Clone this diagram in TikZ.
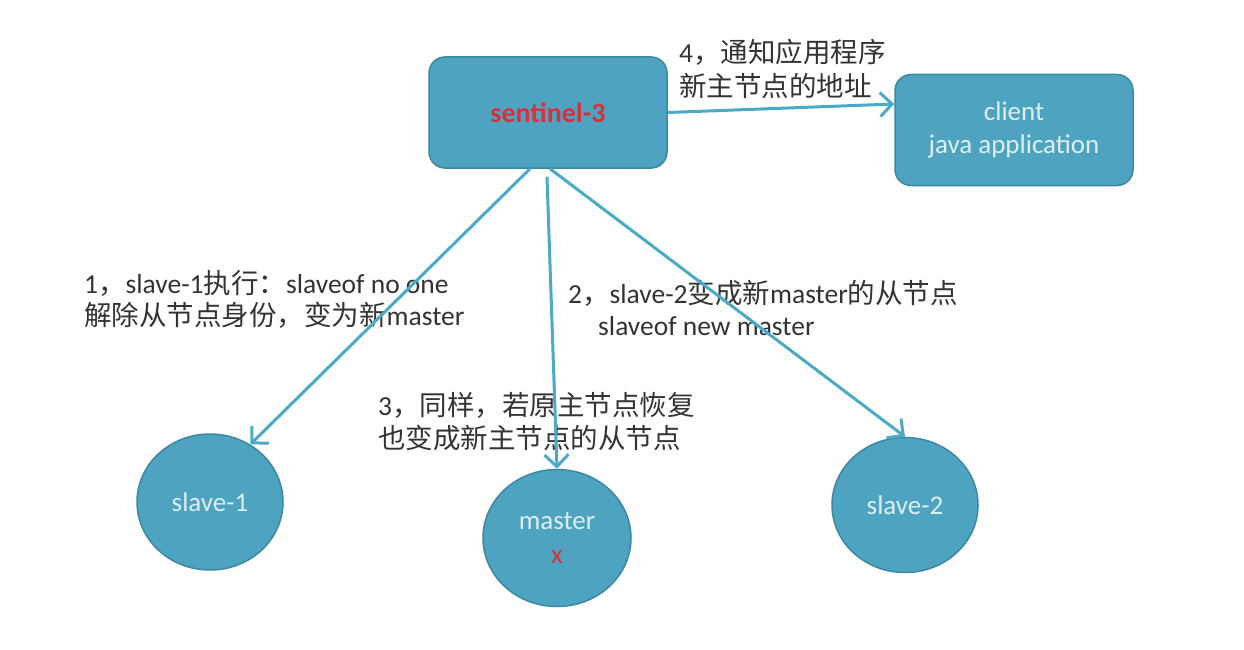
\documentclass[tikz,border=0pt]{standalone}
\usepackage{fontspec}
\setmainfont{Carlito}
\newfontfamily\cjk{Noto Sans CJK SC}
\usetikzlibrary{arrows.meta,shapes.geometric}
\definecolor{nodefill}{HTML}{4EA3C1}
\definecolor{nodeedge}{HTML}{3C88A3}
\definecolor{arrowc}{HTML}{4AAAC8}
\definecolor{nodetext}{HTML}{DCEFF4}
\definecolor{labeltext}{HTML}{333333}
\definecolor{alertred}{HTML}{D9303A}
\begin{document}
\begin{tikzpicture}[x=1pt,y=-1pt,
  box/.style={draw=nodeedge, line width=1.5pt, fill=nodefill, rounded corners=16pt,
    minimum width=238pt, minimum height=111pt, inner sep=0pt},
  disc/.style={ellipse, draw=nodeedge, line width=1.5pt, fill=nodefill,
    minimum width=146pt, minimum height=136pt, inner sep=0pt},
  inner/.style={text=nodetext, font=\fontsize{27}{33}\selectfont, align=center},
  link/.style={draw=arrowc, line width=3pt, -{Straight Barb[length=12pt,width=24pt]}},
  note/.style={text=labeltext, font=\fontsize{27.5}{34}\selectfont, anchor=west, inner sep=0pt}
]
\useasboundingbox (0,0) rectangle (1244,650);

% nodes
\node[box, text=alertred, font=\fontsize{28}{32}\selectfont\bfseries] (s3) at (548,112.5) {sentinel-3};
\node[box, inner] (cl) at (1014,130) {client\\java application};
\node[disc, inner] (s1) at (210,502) {slave-1};
\node[disc, inner, minimum width=148pt, minimum height=137pt] (m) at (557,538) {master\\[1pt]\textcolor{alertred}{x}};
\node[disc, inner, minimum height=135pt] (s2) at (905,505) {slave-2};

% step labels
\node[note] (n4a) at (679,52) {4{\cjk ，通知应用程序}};
\node[note] (n4b) at (679,86) {{\cjk 新主节点的地址}};
\node[note] (n1a) at (84,283) {1{\cjk ，}slave-1{\cjk 执行：}slaveof no one};
\node[note] (n1b) at (84,315) {{\cjk 解除从节点身份，变为新}master};
\node[note] (n2a) at (568,293) {2{\cjk ，}slave-2{\cjk 变成新}master{\cjk 的从节点}};
\node[note] (n2b) at (598,326) {slaveof new master};
\node[note] (n3a) at (378,405) {3{\cjk ，同样，若原主节点恢复}};
\node[note] (n3b) at (378,438) {{\cjk 也变成新主节点的从节点}};

% connectors
\draw[link] ([xshift=-18pt]s3.south) -- (s1.55);
\draw[link] ([xshift=-1pt,yshift=-8pt]s3.south) -- (m.north);
\draw[link] ([xshift=2pt]s3.south) -- (s2.north);
\draw[link] (s3.east) -- ([yshift=26pt]cl.west);
\end{tikzpicture}
\end{document}
